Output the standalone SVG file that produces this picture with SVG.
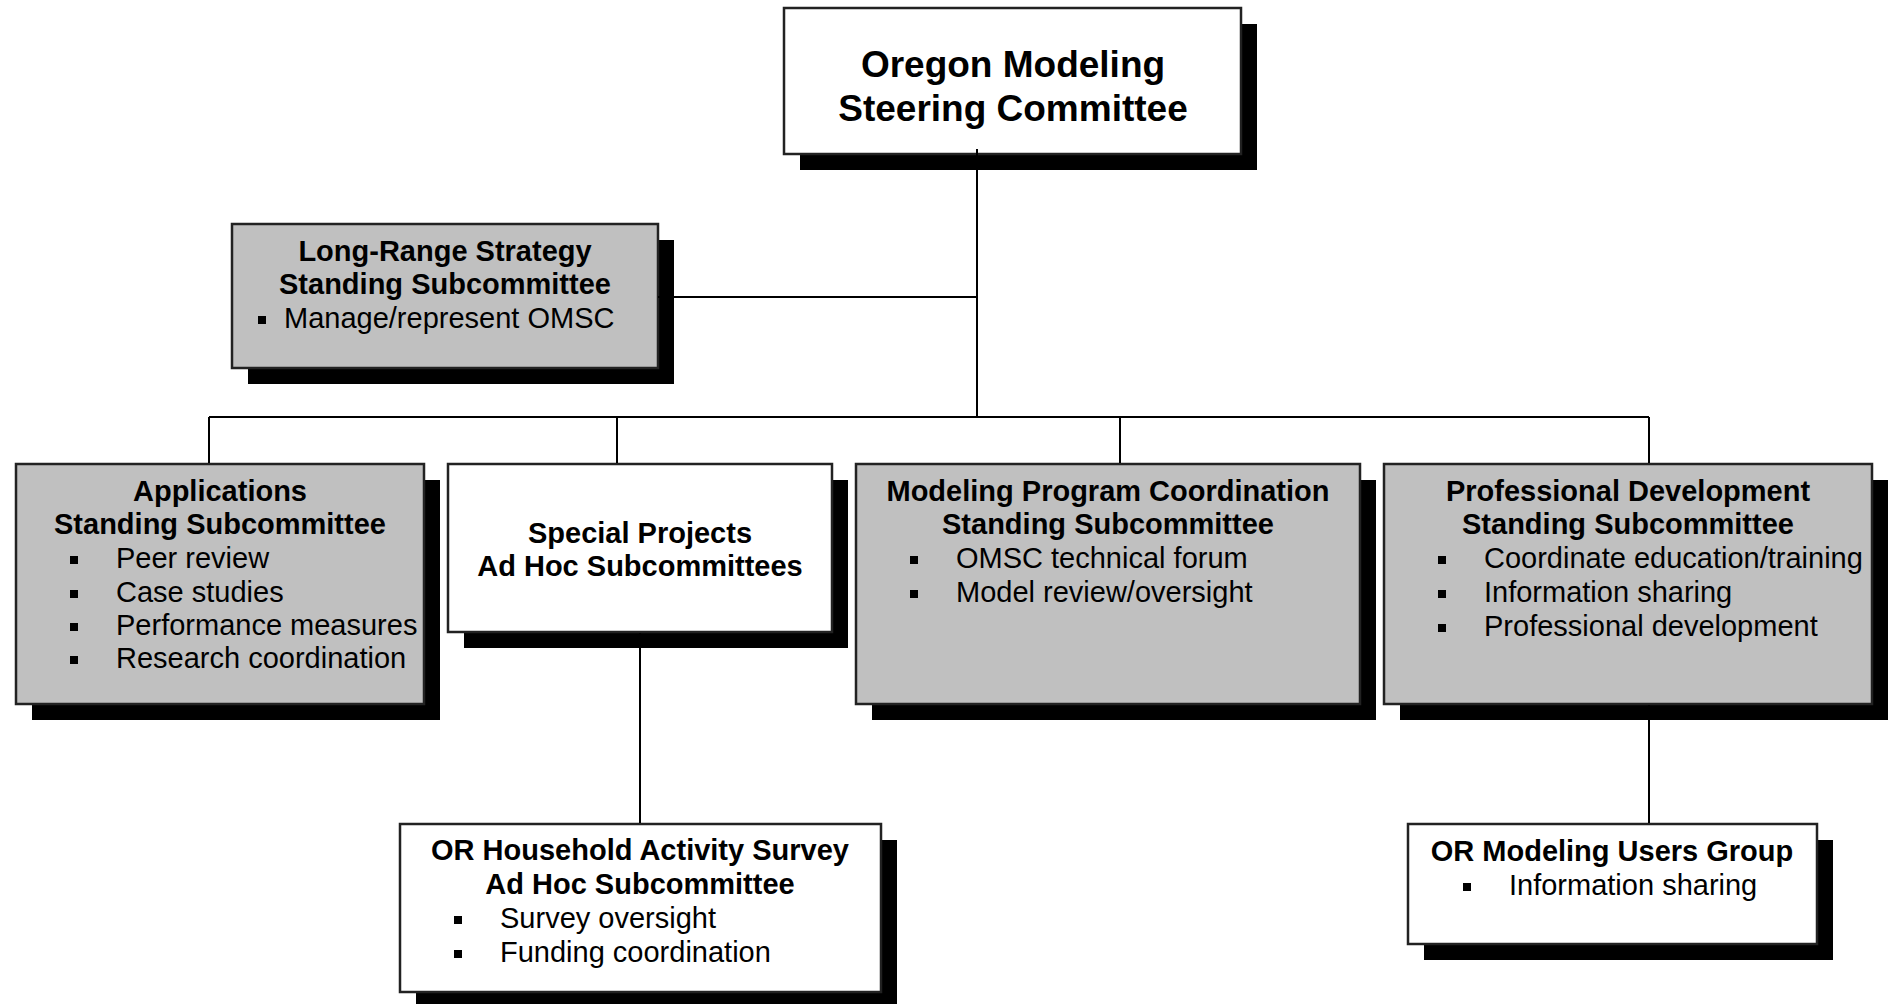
<svg xmlns="http://www.w3.org/2000/svg" width="1889" height="1004" viewBox="0 0 1889 1004">
<style>
.box{stroke:#222;stroke-width:2.5}
.g{fill:#c0c0c0}
.w{fill:#fff}
.sh{fill:#000}
.t{font-family:"Liberation Sans",Arial,sans-serif;font-size:29px;fill:#000}
.b{font-weight:bold;text-anchor:middle}
.h{font-family:"Liberation Sans",Arial,sans-serif;font-size:37px;font-weight:bold;text-anchor:middle;fill:#000}
.ln{stroke:#000;stroke-width:2;fill:none}
</style>
<rect x="0" y="0" width="1889" height="1004" fill="#fff"/>
<g id="n-omsc">
<rect class="sh" x="800" y="24" width="457" height="146"/>
<rect class="box w" x="784" y="8" width="457" height="146"/>
<text class="h" x="1013" y="77">Oregon Modeling</text>
<text class="h" x="1013" y="121">Steering Committee</text>
</g>
<g id="n-longrange">
<rect class="sh" x="248" y="240" width="426" height="144"/>
<rect class="box g" x="232" y="224" width="426" height="144"/>
<text class="t b" x="445" y="261">Long-Range Strategy</text>
<text class="t b" x="445" y="294">Standing Subcommittee</text>
<rect x="258" y="316" width="8" height="8"/>
<text class="t" x="284" y="328">Manage/represent OMSC</text>
</g>
<g id="n-applications">
<rect class="sh" x="32" y="480" width="408" height="240"/>
<rect class="box g" x="16" y="464" width="408" height="240"/>
<text class="t b" x="220" y="501">Applications</text>
<text class="t b" x="220" y="534">Standing Subcommittee</text>
<rect x="70" y="556" width="8" height="8"/>
<text class="t" x="116" y="568">Peer review</text>
<rect x="70" y="590" width="8" height="8"/>
<text class="t" x="116" y="602">Case studies</text>
<rect x="70" y="623" width="8" height="8"/>
<text class="t" x="116" y="635">Performance measures</text>
<rect x="70" y="656" width="8" height="8"/>
<text class="t" x="116" y="668">Research coordination</text>
</g>
<g id="n-special">
<rect class="sh" x="464" y="480" width="384" height="168"/>
<rect class="box w" x="448" y="464" width="384" height="168"/>
<text class="t b" x="640" y="543">Special Projects</text>
<text class="t b" x="640" y="576">Ad Hoc Subcommittees</text>
</g>
<g id="n-modeling">
<rect class="sh" x="872" y="480" width="504" height="240"/>
<rect class="box g" x="856" y="464" width="504" height="240"/>
<text class="t b" x="1108" y="501">Modeling Program Coordination</text>
<text class="t b" x="1108" y="534">Standing Subcommittee</text>
<rect x="910" y="556" width="8" height="8"/>
<text class="t" x="956" y="568">OMSC technical forum</text>
<rect x="910" y="590" width="8" height="8"/>
<text class="t" x="956" y="602">Model review/oversight</text>
</g>
<g id="n-profdev">
<rect class="sh" x="1400" y="480" width="488" height="240"/>
<rect class="box g" x="1384" y="464" width="488" height="240"/>
<text class="t b" x="1628" y="501">Professional Development</text>
<text class="t b" x="1628" y="534">Standing Subcommittee</text>
<rect x="1438" y="556" width="8" height="8"/>
<text class="t" x="1484" y="568">Coordinate education/training</text>
<rect x="1438" y="590" width="8" height="8"/>
<text class="t" x="1484" y="602">Information sharing</text>
<rect x="1438" y="624" width="8" height="8"/>
<text class="t" x="1484" y="636">Professional development</text>
</g>
<g id="n-household">
<rect class="sh" x="416" y="840" width="481" height="168"/>
<rect class="box w" x="400" y="824" width="481" height="168"/>
<text class="t b" x="640" y="860">OR Household Activity Survey</text>
<text class="t b" x="640" y="894">Ad Hoc Subcommittee</text>
<rect x="454" y="916" width="8" height="8"/>
<text class="t" x="500" y="928">Survey oversight</text>
<rect x="454" y="950" width="8" height="8"/>
<text class="t" x="500" y="962">Funding coordination</text>
</g>
<g id="n-users">
<rect class="sh" x="1424" y="840" width="409" height="120"/>
<rect class="box w" x="1408" y="824" width="409" height="120"/>
<text class="t b" x="1612" y="861">OR Modeling Users Group</text>
<rect x="1463" y="883" width="8" height="8"/>
<text class="t" x="1509" y="895">Information sharing</text>
</g>
<g id="connectors">
<path class="ln" d="M977 149V417M658 297H977M209 417H1649M209 417V463M617 417V463M1120 417V463M1649 417V463M640 633V823M1649 705V823"/>
</g>
</svg>
